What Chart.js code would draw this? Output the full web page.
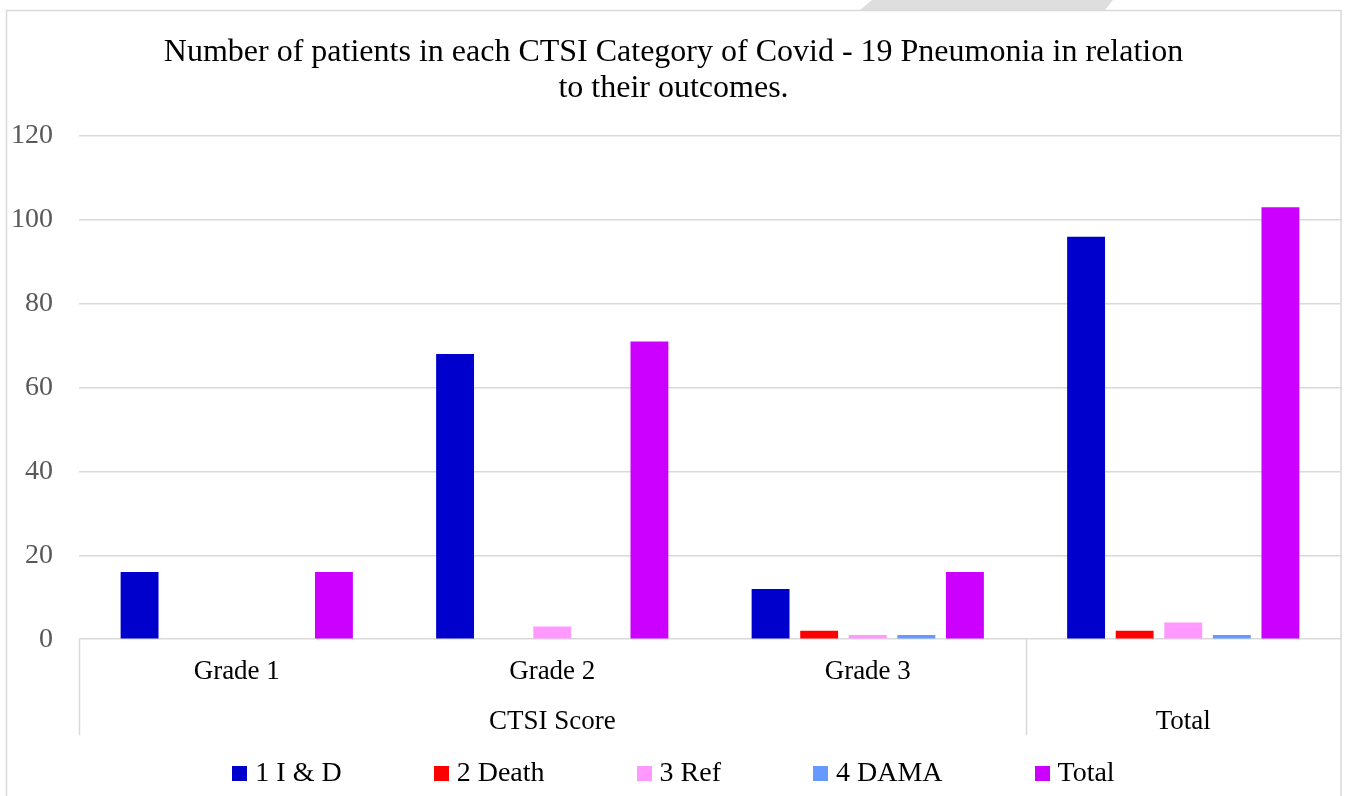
<!DOCTYPE html>
<html>
<head>
<meta charset="utf-8">
<script src="https://cdn.jsdelivr.net/npm/chart.js@4.4.1/dist/chart.umd.min.js"></script>
<style>
	html, body { margin: 0; padding: 0; background: #fff; }
	canvas { display: block; }
</style>
</head>
<body>
<canvas id="myChart" width="1347" height="796"></canvas>
<script>
const categories = ['Grade 1', 'Grade 2', 'Grade 3', 'Total'];
const groupNames = ['CTSI Score', 'Total'];
const groupSpans = [3, 1];
const seriesNames = ['1 I & D', '2 Death', '3 Ref', '4 DAMA', 'Total'];
const iAndD = [16, 68, 12, 96];
const death = [0, 0, 2, 2];
const ref = [0, 3, 1, 4];
const dama = [0, 0, 1, 1];
const total = [16, 71, 16, 103];
const yTicks = [0, 20, 40, 60, 80, 100, 120];
const colors = ['#0000cc', '#ff0000', '#ff99ff', '#6699ff', '#cc00ff'];

const serif = "'Liberation Serif', 'Times New Roman', serif";
const gridGrey = '#d9d9d9';

// second level labels: group name sits under the middle category of its span,
// a group of one category replaces the first level label
const groupLabels = categories.map(() => '');
const groupStarts = [];
let start = 0;
groupSpans.forEach((span, g) => {
	groupStarts.push(start);
	groupLabels[start + Math.floor(span / 2)] = groupNames[g];
	start += span;
});
const singles = new Set(groupStarts.filter((s, g) => groupSpans[g] === 1));

// frame, stray grey strip at the top, group dividers and the legend
const decor = {
	id: 'decor',
	beforeDraw(chart) {
		const { ctx } = chart;
		ctx.save();
		ctx.fillStyle = '#dedede';
		ctx.beginPath();
		ctx.moveTo(872, 0);
		ctx.lineTo(1113, 0);
		ctx.lineTo(1105, 10);
		ctx.lineTo(860, 10);
		ctx.closePath();
		ctx.fill();
		ctx.strokeStyle = gridGrey;
		ctx.lineWidth = 1.5;
		ctx.strokeRect(6.5, 10.5, 1334.5, 800);
		ctx.restore();
	},
	afterDraw(chart) {
		const { ctx, chartArea } = chart;
		const x = chart.scales.x;
		const half = (x.getPixelForValue(1) - x.getPixelForValue(0)) / 2;
		ctx.save();
		ctx.strokeStyle = gridGrey;
		ctx.lineWidth = 1.5;
		groupStarts.forEach((i) => {
			const px = Math.round(x.getPixelForValue(i) - half) + 0.5;
			ctx.beginPath();
			ctx.moveTo(px, chartArea.bottom);
			ctx.lineTo(px, chartArea.bottom + 96);
			ctx.stroke();
		});

		// legend
		ctx.font = '28px ' + serif;
		ctx.textBaseline = 'middle';
		const box = 15, gap = 8, spacing = 92;
		const widths = seriesNames.map((n) => box + gap + ctx.measureText(n).width);
		const full = widths.reduce((a, b) => a + b, 0) + spacing * (widths.length - 1);
		let cx = chart.width / 2 - full / 2;
		const cy = chart.height - 23;
		seriesNames.forEach((n, i) => {
			ctx.fillStyle = colors[i];
			ctx.fillRect(Math.round(cx), Math.round(cy - box / 2), box, box);
			ctx.fillStyle = '#000';
			ctx.fillText(n, cx + box + gap, cy + 1);
			cx += widths[i] + spacing;
		});
		ctx.restore();
	}
};

const seriesData = [iAndD, death, ref, dama, total];

new Chart(document.getElementById('myChart').getContext('2d'), {
	type: 'bar',
	data: {
		labels: categories,
		datasets: seriesNames.map((name, i) => ({
			label: name,
			data: seriesData[i],
			backgroundColor: colors[i],
			borderWidth: 0,
			categoryPercentage: 0.77,
			barPercentage: 0.78
		}))
	},
	options: {
		responsive: false,
		animation: false,
		layout: { padding: { top: 10, left: 6, right: 6, bottom: 58 } },
		font: { family: serif },
		plugins: {
			legend: { display: false },
			tooltip: { enabled: false },
			title: {
				display: true,
				text: ['Number of patients in each CTSI Category of Covid - 19 Pneumonia in relation', 'to their outcomes.'],
				color: '#000',
				font: { family: serif, size: 32, weight: 'normal', lineHeight: 1.125 },
				padding: { top: 25, bottom: 29 }
			}
		},
		scales: {
			x: {
				grid: { display: false },
				border: { display: false },
				ticks: {
					color: '#000',
					font: { family: serif, size: 27 },
					padding: 9,
					autoSkip: false,
					maxRotation: 0,
					callback: (v, i) => (singles.has(i) ? '' : categories[i])
				}
			},
			x2: {
				type: 'category',
				labels: groupLabels,
				position: 'bottom',
				offset: true,
				grid: { display: false },
				border: { display: false },
				ticks: {
					color: '#000',
					font: { family: serif, size: 27 },
					padding: 0,
					autoSkip: false,
					maxRotation: 0
				}
			},
			y: {
				min: 0,
				max: 120,
				afterBuildTicks: (scale) => { scale.ticks = yTicks.map((v) => ({ value: v })); },
				afterFit: (scale) => { scale.width = 73; },
				grid: { color: gridGrey, lineWidth: 1.5, drawTicks: false },
				border: { display: false },
				ticks: {
					color: '#595959',
					font: { family: serif, size: 28 },
					padding: 26
				}
			}
		}
	},
	plugins: [decor]
});
</script>
</body>
</html>
